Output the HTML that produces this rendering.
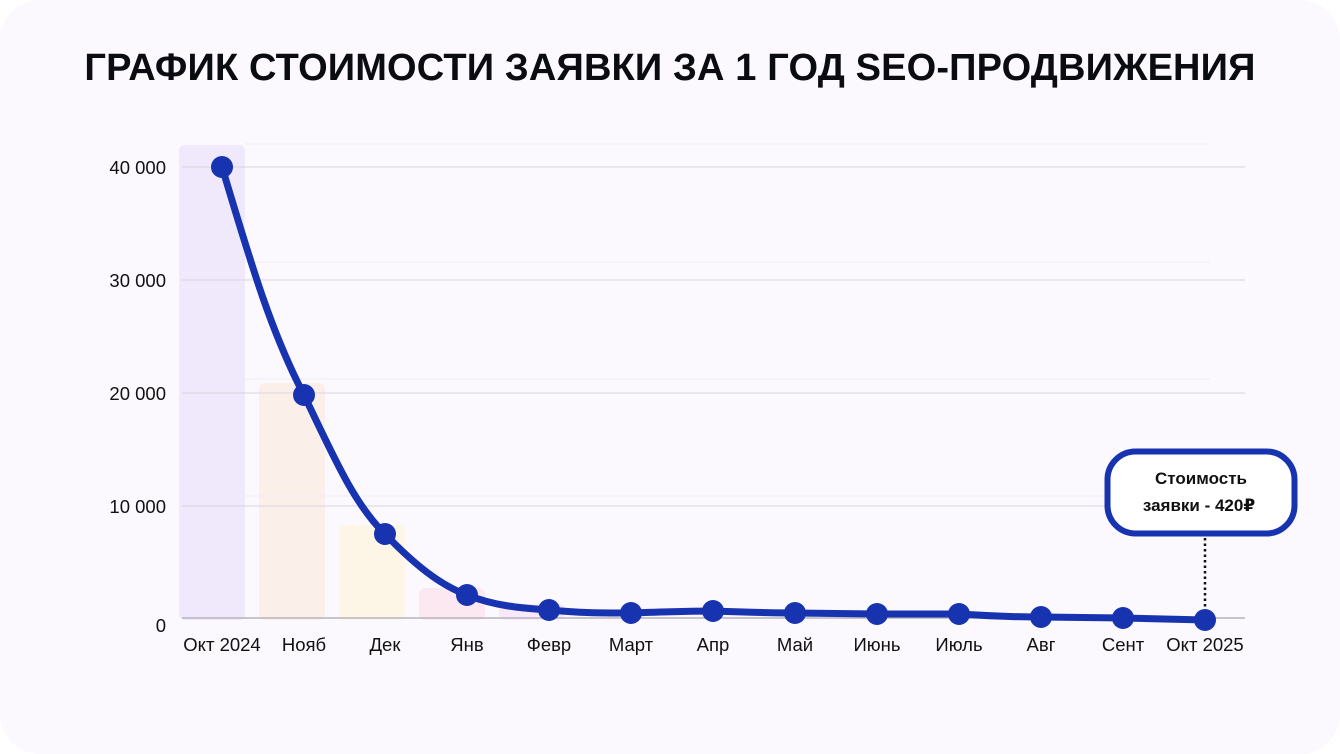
<!DOCTYPE html>
<html><head><meta charset="utf-8"><style>
body{margin:0;background:#fff;width:1340px;height:754px;overflow:hidden;font-family:"Liberation Sans","DejaVu Sans",sans-serif}
.card{position:absolute;left:0;top:0;width:1340px;height:754px;background:#fbf8fe;border-radius:40px}
h1{position:absolute;left:0;width:1340px;top:47px;margin:0;text-align:center;font-size:38px;font-weight:bold;letter-spacing:0.15px;color:#0b0b12}
</style></head><body>
<div class="card"></div>
<h1>ГРАФИК СТОИМОСТИ ЗАЯВКИ ЗА 1 ГОД SEO-ПРОДВИЖЕНИЯ</h1>
<svg width="1340" height="754" style="position:absolute;left:0;top:0">
<g fill-opacity="1">
<rect x="179" y="145" width="66" height="475" rx="6" fill="#efe9fb"/>
<rect x="259" y="383" width="66" height="237" rx="6" fill="#fbefea"/>
<rect x="339" y="525" width="66" height="95" rx="6" fill="#fdf5e6"/>
<rect x="419" y="588" width="66" height="32" rx="6" fill="#fbe8f0"/>
<rect x="499" y="604" width="66" height="16" rx="6" fill="#f8e9fa"/>
</g>
<g stroke="#f1edf4" stroke-width="1">
<line x1="245" x2="1210" y1="144" y2="144"/><line x1="245" x2="1210" y1="262" y2="262"/><line x1="245" x2="1210" y1="379" y2="379"/><line x1="245" x2="1210" y1="496" y2="496"/>
</g>
<g stroke="#d9d4dd" stroke-width="1">
<line x1="182" x2="1245" y1="167" y2="167"/><line x1="182" x2="1245" y1="280" y2="280"/><line x1="182" x2="1245" y1="393" y2="393"/><line x1="182" x2="1245" y1="506" y2="506"/>
</g>
<line x1="182" x2="1245" y1="618" y2="618" stroke="#b8b3bc" stroke-width="1.5"/>
<g font-size="18.5" fill="#111" text-anchor="end">
<text x="166" y="174">40 000</text><text x="166" y="287">30 000</text><text x="166" y="400">20 000</text><text x="166" y="513">10 000</text><text x="166" y="632">0</text>
</g>
<g font-size="18.5" fill="#111" text-anchor="middle">
<text x="222" y="651">Окт 2024</text><text x="304" y="651">Нояб</text><text x="385" y="651">Дек</text><text x="467" y="651">Янв</text><text x="549" y="651">Февр</text><text x="631" y="651">Март</text><text x="713" y="651">Апр</text><text x="795" y="651">Май</text><text x="877" y="651">Июнь</text><text x="959" y="651">Июль</text><text x="1041" y="651">Авг</text><text x="1123" y="651">Сент</text><text x="1205" y="651">Окт 2025</text>
</g>
<line x1="1205" y1="538" x2="1205" y2="612" stroke="#111" stroke-width="2.5" stroke-dasharray="2.5,3"/>
<path d="M222,167 C250,260 270,330 304,395 C335,460 355,505 385,534 C415,565 440,585 467,595 C495,606 520,608 549,610 C580,613 600,613 631,613 C660,612 690,611 713,611 C740,612 770,613 795,613 L877,614 L959,614 C990,616 1010,617 1041,617 L1123,618 L1205,620" fill="none" stroke="#1733b0" stroke-width="7" stroke-linecap="round"/>
<g fill="#1733b0">
<circle cx="222" cy="167" r="11"/><circle cx="304" cy="395" r="11"/><circle cx="385" cy="534" r="11"/><circle cx="467" cy="595" r="11"/><circle cx="549" cy="610" r="11"/><circle cx="631" cy="613" r="11"/><circle cx="713" cy="611" r="11"/><circle cx="795" cy="613" r="11"/><circle cx="877" cy="614" r="11"/><circle cx="959" cy="614" r="11"/><circle cx="1041" cy="617" r="11"/><circle cx="1123" cy="618" r="11"/><circle cx="1205" cy="620" r="11"/>
</g>
<rect x="1107.5" y="451.5" width="187" height="82" rx="28" fill="#fff" stroke="#1733b0" stroke-width="6"/>
<g font-size="17" font-weight="bold" fill="#111" text-anchor="middle">
<text x="1201" y="484">Стоимость</text><text x="1199" y="511">заявки - 420₽</text>
</g>
</svg>
</body></html>
